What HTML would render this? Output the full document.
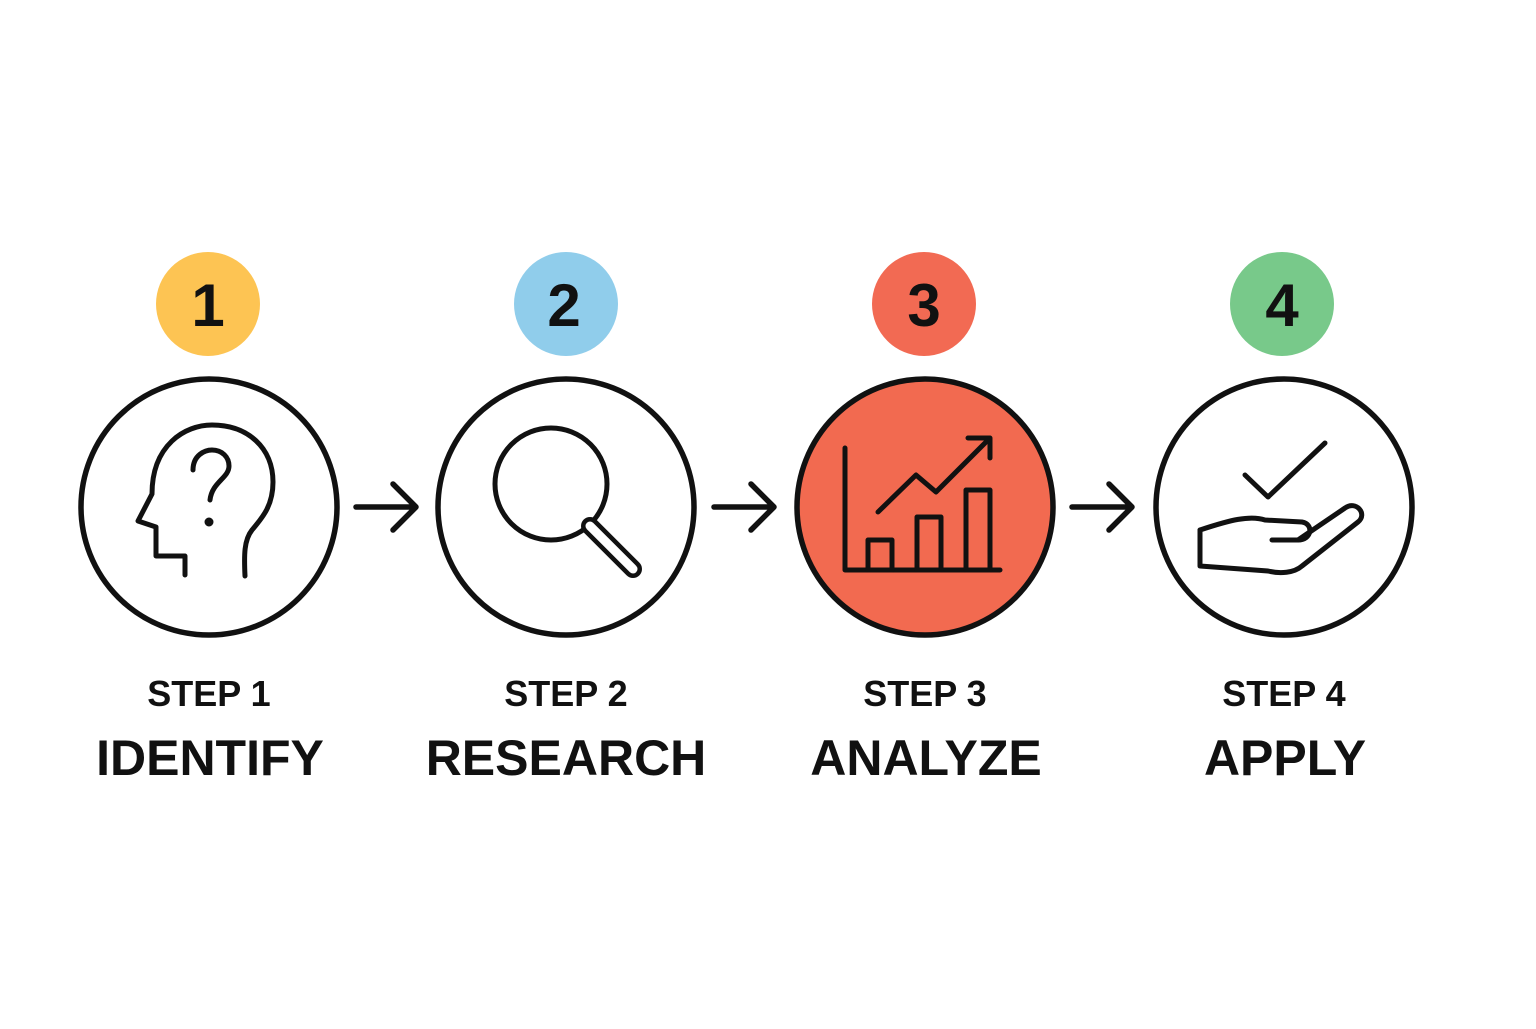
<!DOCTYPE html>
<html><head><meta charset="utf-8"><style>
html,body{margin:0;padding:0;background:#fff;}
body{width:1536px;height:1024px;overflow:hidden;}
</style></head><body>
<svg width="1536" height="1024" viewBox="0 0 1536 1024" xmlns="http://www.w3.org/2000/svg">
<rect width="1536" height="1024" fill="#fff"/>
<g font-family="Liberation Sans, sans-serif" font-weight="bold" text-anchor="middle" fill="#111">
<circle cx="208" cy="304" r="52" fill="#FDC453"/>
<circle cx="566" cy="304" r="52" fill="#90CDEB"/>
<circle cx="924" cy="304" r="52" fill="#F26A53"/>
<circle cx="1282" cy="304" r="52" fill="#78C98A"/>
<text x="208" y="326" font-size="60">1</text>
<text x="564" y="326" font-size="60">2</text>
<text x="924" y="326" font-size="60">3</text>
<text x="1282" y="326" font-size="60">4</text>
<g stroke="#111" stroke-width="5.5" fill="none">
<circle cx="209" cy="507" r="128"/>
<circle cx="566" cy="507" r="128"/>
<circle cx="925" cy="507" r="128" fill="#F26A50"/>
<circle cx="1284" cy="507" r="128"/>
</g>
<g stroke="#111" stroke-width="5.5" fill="none" stroke-linecap="round" stroke-linejoin="round">
<path d="M356 507H416M393 484L416 507L393 530"/>
<path d="M714 507H774M751 484L774 507L751 530"/>
<path d="M1072 507H1132M1109 484L1132 507L1109 530"/>
</g>
<g stroke="#111" stroke-width="5" fill="none" stroke-linecap="round" stroke-linejoin="round">
<path d="M185 575V556H156V527L138 521L152 494C152 445 185 425 212 425C248 425 273 448 273 482C273 506 262 518 252 530C244 540 244 555 245 576"/>
<path d="M193 470C193 455 205 450 212 450C222 450 229 457 229 466C229 478 212 482 210 500"/>
<circle cx="209" cy="522" r="2" fill="#111"/>
</g>
<g stroke="#111" stroke-width="5" fill="none" stroke-linecap="round">
<circle cx="551" cy="484" r="56"/>
<path d="M590 526L633 569" stroke-width="18"/>
<path d="M590 526L633 569" stroke="#fff" stroke-width="9"/>
</g>
<g stroke="#111" stroke-width="5" fill="none" stroke-linecap="round" stroke-linejoin="round">
<path d="M845 448V570H1000"/>
<rect x="868" y="540" width="24" height="30"/>
<rect x="917" y="517" width="24" height="53"/>
<rect x="966" y="490" width="24" height="80"/>
<path d="M878 512L916 475L936 492L990 438M968 438H990V458"/>
</g>
<g stroke="#111" stroke-width="5" fill="none" stroke-linecap="round" stroke-linejoin="round">
<path d="M1245 475L1268 497L1325 443"/>
<path d="M1200 530C1230 520 1250 515 1265 520L1302 522C1314 524 1312 540 1298 540H1272"/>
<path d="M1200 530V566L1268 571C1280 574 1294 573 1302 566L1358 522C1368 514 1356 500 1345 508L1298 540"/>
</g>
<text x="209" y="706" font-size="36">STEP 1</text>
<text x="566" y="706" font-size="36">STEP 2</text>
<text x="925" y="706" font-size="36">STEP 3</text>
<text x="1284" y="706" font-size="36">STEP 4</text>
<text x="210" y="775" font-size="50">IDENTIFY</text>
<text x="566" y="775" font-size="50">RESEARCH</text>
<text x="926" y="775" font-size="50">ANALYZE</text>
<text x="1285" y="775" font-size="50">APPLY</text>
</g>
</svg>
</body></html>
